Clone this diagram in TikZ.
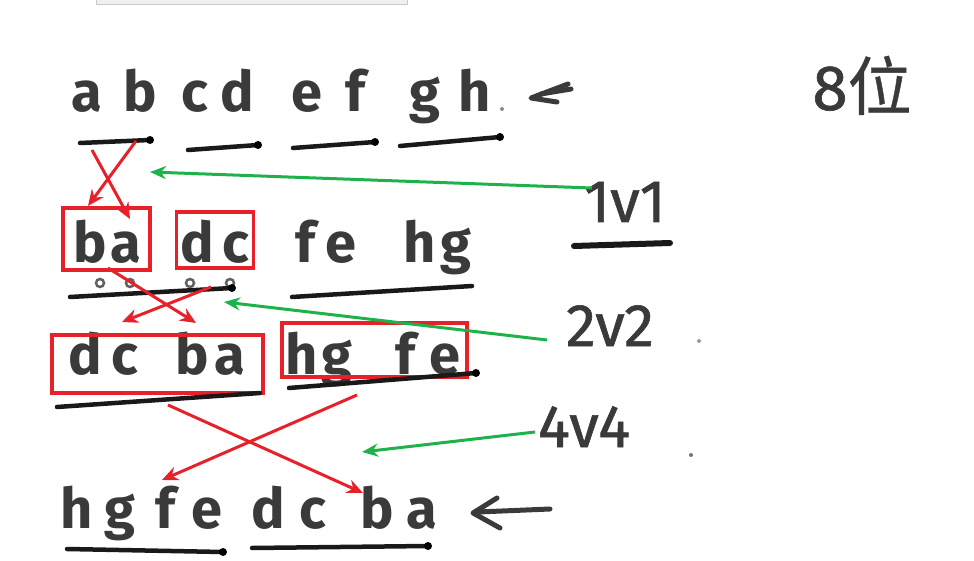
\documentclass[tikz,border=0pt]{standalone}
\usepackage{fontspec}
\setmainfont{Fira Sans}
\newfontfamily\cjk{Noto Sans CJK SC}
\usetikzlibrary{arrows.meta}
\definecolor{myred}{HTML}{E8202A}
\definecolor{mygreen}{HTML}{1DB34A}
\definecolor{ink}{HTML}{3A3A3A}
\tikzset{
  ltr/.style={anchor=base, inner sep=0pt, text=ink, font=\fontsize{56}{56}\selectfont\bfseries},
  lbl/.style={anchor=base, inner sep=0pt, text=ink, font=\fontsize{60}{60}\selectfont\addfontfeature{FakeBold=1}},
  uline/.style={draw=black!90, line width=4.5pt, line cap=round},
  udot/.style={fill=black, circle, inner sep=0pt, minimum size=8pt},
  redbox/.style={draw=myred, line width=3.5pt},
  redarr/.style={draw=myred, line width=3pt, -{Stealth[length=16pt,width=14pt]}},
  grnarr/.style={draw=mygreen, line width=3pt, -{Stealth[length=16pt,width=13pt]}},
  pen/.style={draw=ink, line width=5pt, line cap=round, line join=round},
}
\begin{document}
\begin{tikzpicture}[x=1pt,y=-1pt]
\useasboundingbox (0,0) rectangle (974,561);
% top UI strip
\fill[gray!12] (96,0) rectangle (407,4);
\draw[gray!40, line width=0.8pt] (96,0) -- (96,4) -- (407,4) -- (407,0);
% row 1
\foreach \n/\t/\x in {a/a/87,b/b/140,c/c/195,d/d/237,e/e/307,f/f/355,g/g/425,h/h/475}
  \node[ltr] (r1\n) at (\x,112) {\t};
\node[inner sep=0pt, fill=ink!60, circle, minimum size=4pt] (r1dot) at (502,109) {};
\coordinate (p1a) at (568,84); \coordinate (p1b) at (531,98); \coordinate (p1c) at (557,102);
\coordinate (p1d) at (541,94); \coordinate (p1e) at (571,89);
\draw[pen] (p1a) -- (p1b) -- (p1c);
\draw[pen] (p1d) -- (p1e);
\coordinate (u1a) at (80,143); \coordinate (u1b) at (150,140);
\coordinate (u2a) at (188,150); \coordinate (u2b) at (258,145);
\coordinate (u3a) at (293,148); \coordinate (u3b) at (375,142);
\coordinate (u4a) at (400,146); \coordinate (u4b) at (500,137);
\draw[uline] (u1a) -- (u1b); \node[udot] at (u1b) {};
\draw[uline] (u2a) -- (u2b); \node[udot] at (u2b) {};
\draw[uline] (u3a) -- (u3b); \node[udot] at (u3b) {};
\draw[uline] (u4a) -- (u4b); \node[udot] at (u4b) {};
% row 2
\foreach \n/\t/\x in {b/b/90,a/a/126,d/d/197,c/c/236,f/f/305,e/e/341,h/h/420,g/g/456}
  \node[ltr] (r2\n) at (\x,262) {\t};
\node[redbox, minimum width=87pt, minimum height=62pt, inner sep=0pt] (box1) at (106.5,239) {};
\node[redbox, minimum width=77pt, minimum height=56pt, inner sep=0pt] (box2) at (215,240) {};
\foreach \x in {100,130,190,230}
  \draw[ink!80, line width=2.5pt] (\x,283) circle (4pt);
\coordinate (u5a) at (70,297); \coordinate (u5b) at (232,288);
\coordinate (u6a) at (292,297); \coordinate (u6b) at (472,286);
\draw[uline] (u5a) -- (u5b); \node[udot] at (u5b) {};
\draw[uline] (u6a) -- (u6b);
% row 3
\foreach \n/\t/\x in {d/d/85,c/c/125,b/b/192,a/a/230,h/h/302,g/g/337,f/f/405,e/e/445}
  \node[ltr] (r3\n) at (\x,374) {\t};
\node[redbox, minimum width=211pt, minimum height=58pt, inner sep=0pt] (box3) at (157.5,364) {};
\node[redbox, minimum width=185pt, minimum height=54pt, inner sep=0pt] (box4) at (374.5,350) {};
\coordinate (u7a) at (57,407); \coordinate (u7b) at (260,393);
\coordinate (u8a) at (289,388); \coordinate (u8b) at (476,373);
\draw[uline] (u7a) -- (u7b);
\draw[uline] (u8a) -- (u8b); \node[udot] at (u8b) {};
% row 4
\foreach \n/\t/\x in {h/h/77,g/g/120,f/f/165,e/e/207,d/d/268,c/c/313,b/b/377,a/a/422}
  \node[ltr] (r4\n) at (\x,528) {\t};
\coordinate (p4a) at (497,498); \coordinate (p4b) at (473,513); \coordinate (p4c) at (500,528);
\coordinate (p4d) at (478,512); \coordinate (p4e) at (550,509);
\draw[pen] (p4a) -- (p4b) -- (p4c);
\draw[pen] (p4d) -- (p4e);
\coordinate (u9a) at (67,549); \coordinate (u9b) at (223,552);
\coordinate (u10a) at (252,548); \coordinate (u10b) at (428,546);
\draw[uline] (u9a) -- (u9b); \node[udot] at (u9b) {};
\draw[uline] (u10a) -- (u10b); \node[udot] at (u10b) {};
% right labels
\node[lbl] (l1) at (625,222) {1v1};
\coordinate (u11a) at (574,246); \coordinate (u11b) at (670,243);
\draw[uline, line width=6pt] (u11a) -- (u11b);
\node[lbl] (l2) at (610,346) {2v2};
\node[inner sep=0pt, fill=ink!50, circle, minimum size=4pt] (l2dot) at (699,341) {};
\node[lbl] (l4) at (584,447) {4v4};
\node[inner sep=0pt, fill=ink!70, circle, minimum size=4pt] (l4dot) at (691,455) {};
\node[anchor=base, inner sep=0pt, text=ink, font=\fontsize{64}{64}\selectfont\addfontfeature{FakeBold=1}] (l8) at (862,110) {8{\cjk\addfontfeature{FakeBold=0.6} 位}};
% red arrows
\coordinate (a1s) at (136,141); \coordinate (a1e) at (88,206);
\coordinate (a2s) at (92,150); \coordinate (a2e) at (130,219);
\draw[redarr] (a1s) -- (a1e);
\draw[redarr] (a2s) -- (a2e);
\coordinate (a3s) at (108,268); \coordinate (a3e) at (196,323);
\coordinate (a4s) at (211,287); \coordinate (a4e) at (122,322);
\draw[redarr] (a3s) -- (a3e);
\draw[redarr] (a4s) -- (a4e);
\coordinate (a5s) at (168,405); \coordinate (a5e) at (363,493);
\coordinate (a6s) at (357,395); \coordinate (a6e) at (162,480);
\draw[redarr] (a5s) -- (a5e);
\draw[redarr] (a6s) -- (a6e);
% green arrows
\coordinate (g1s) at (592,188); \coordinate (g1e) at (150,172);
\coordinate (g2s) at (547,340); \coordinate (g2e) at (224,302);
\coordinate (g3s) at (535,432); \coordinate (g3e) at (362,452);
\draw[grnarr] (g1s) -- (g1e);
\draw[grnarr] (g2s) -- (g2e);
\draw[grnarr] (g3s) -- (g3e);
\end{tikzpicture}
\end{document}
